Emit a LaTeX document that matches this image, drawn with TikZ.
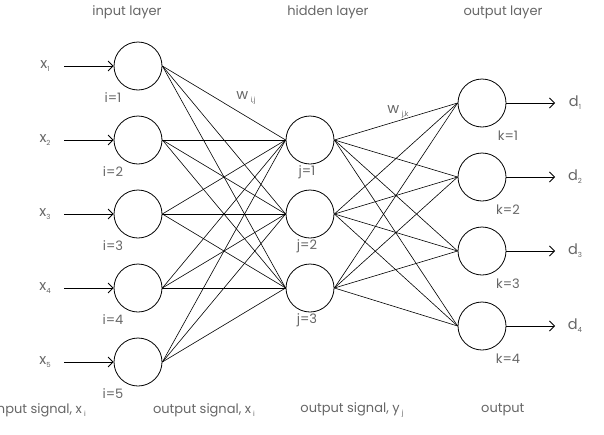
\documentclass[tikz,border=0pt]{standalone}
\usepackage{fontspec}
\setmainfont{Poppins}
\usetikzlibrary{arrows.meta}
\newcommand\smallsub[1]{\raisebox{-0.4ex}{\fontsize{7}{8}\selectfont #1}}
\begin{document}
\begin{tikzpicture}[x=1pt,y=-1pt,
 neuron/.style={circle,draw,line width=0.8pt,minimum size=48pt,inner sep=0pt},
 lbl/.style={text=black!60,font=\fontsize{13}{15}\selectfont,inner sep=0pt},
 varlbl/.style={lbl,font=\fontsize{14.5}{16}\selectfont},
 conn/.style={line width=0.6pt},
 arr/.style={line width=0.8pt,-{Straight Barb[length=5pt,width=10pt]}}]
\useasboundingbox (0,0) rectangle (604,434);
\clip (0,0) rectangle (604,434);
% titles
\node[lbl] (t1) at (127,12) {input layer};
\node[lbl] (t2) at (328,12) {hidden layer};
\node[lbl] (t3) at (503,12) {output layer};
% input layer
\foreach \i/\y in {1/66,2/140,3/214,4/288,5/362}{
  \node[neuron] (I\i) at (138,\y) {};
  \node[lbl] (il\i) at (113,\y+32) {i=\i};
  \node[varlbl] (x\i) at (45,\y) {x\smallsub{\i}};
  \coordinate (xs\i) at (64,\y);
  \draw[arr] (xs\i) -- (I\i);
}
% hidden layer
\foreach \j/\y in {1/140,2/214,3/288}{
  \node[neuron] (H\j) at (310,\y) {};
  \node[lbl] (jl\j) at (307,\y+32) {j=\j};
}
% output layer
\foreach \k/\y in {1/103,2/177,3/251,4/326}{
  \node[neuron] (O\k) at (482,\y) {};
  \node[lbl] (kl\k) at (508,\y+33) {k=\k};
  \node[varlbl] (d\k) at (575,\y) {d\smallsub{\k}};
  \coordinate (de\k) at (555,\y);
  \draw[arr] (O\k) -- (de\k);
}
% connections
\foreach \i in {1,...,5}{
  \foreach \j in {1,2,3}{
    \draw[conn] (I\i.east) -- (H\j.west);
  }
}
\foreach \j in {1,2,3}{
  \foreach \k in {1,...,4}{
    \draw[conn] (H\j.east) -- (O\k.west);
  }
}
% weight labels
\node[varlbl] (wij) at (246,98) {w\,\smallsub{i,j}};
\node[varlbl] (wjk) at (398,112) {w\,\smallsub{j,k}};
% bottom labels
\node[lbl,anchor=east] (s1) at (86,410) {input signal, x\,\smallsub{i}};
\node[lbl] (s2) at (204,410) {output signal, x\,\smallsub{i}};
\node[lbl] (s3) at (352,410) {output signal, y\,\smallsub{j}};
\node[lbl,anchor=west] (s4) at (481,410) {output};
\end{tikzpicture}
\end{document}
